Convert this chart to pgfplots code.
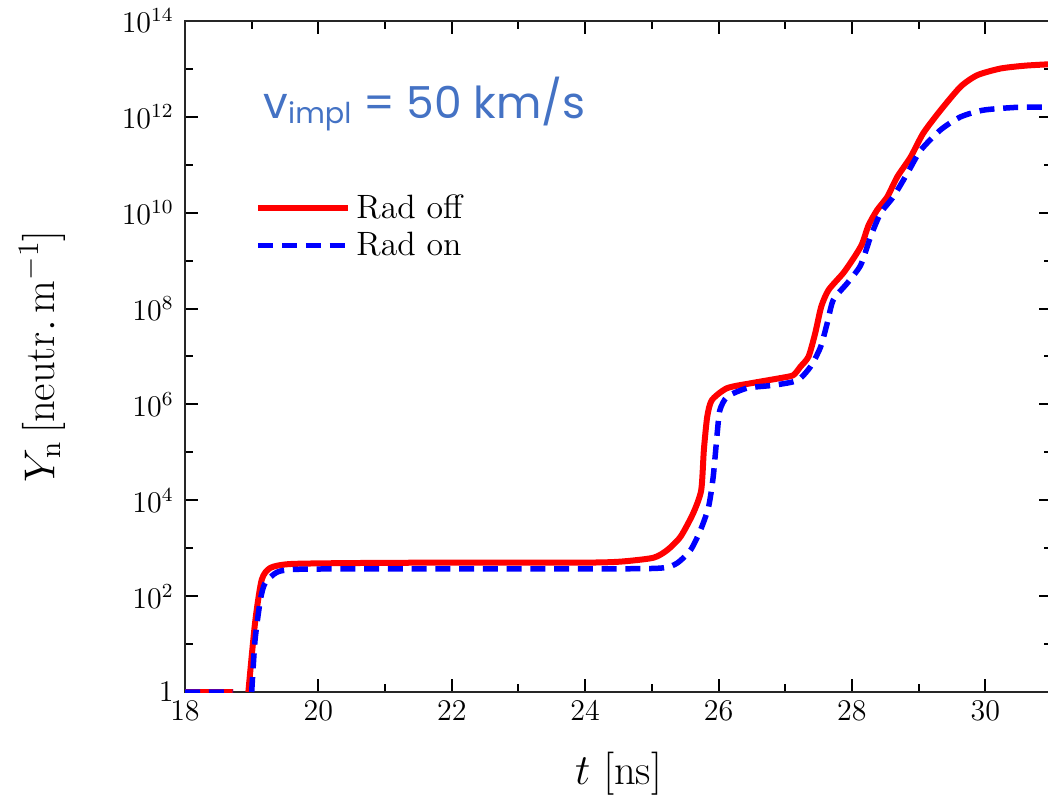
\documentclass[border=0pt]{standalone}
\usepackage{fontspec}
\newfontfamily\pop{Poppins}
\usepackage{pgfplots}
\pgfplotsset{compat=1.18}
\definecolor{vblue}{HTML}{4472C4}
\begin{document}
\begin{tikzpicture}
\begin{axis}[
  at={(0,0)}, anchor=south west,
  scale only axis, width=346.8pt, height=268.4pt,
  xmin=18, xmax=31, ymin=1, ymax=1e14, ymode=log,
  xtick={18,20,22,24,26,28,30}, minor xtick={19,21,23,25,27,29},
  ytick={1,1e2,1e4,1e6,1e8,1e10,1e12,1e14},
  yticklabels={$1$,$10^{2}$,$10^{4}$,$10^{6}$,$10^{8}$,$10^{10}$,$10^{12}$,$10^{14}$},
  minor ytick={1e1,1e3,1e5,1e7,1e9,1e11,1e13},
  tick align=inside, major tick length=5.2pt, minor tick length=3.2pt,
  every tick/.style={black, line width=0.8pt},
  axis line style={line width=0.8pt, black!85},
  tick label style={font=\fontsize{12}{14}\selectfont},
  yticklabel style={xshift=-1pt},
  xlabel={$t\ [\mathrm{ns}]$},
  ylabel={$Y_{\mathrm{n}}\,[\mathrm{neutr.\,m^{-1}}]$},
  label style={font=\fontsize{17}{20}\selectfont},
  xlabel style={at={(axis description cs:0.5,-0.122)}, anchor=center},
  ylabel style={at={(axis description cs:-0.165,0.5)}, anchor=center},
  unbounded coords=jump,
  legend style={draw=none, fill=none, at={(axis description cs:0.072,0.757)}, anchor=north west,
    font=\fontsize{13.5}{16}\selectfont},
  legend cell align=left,
  legend image code/.code={\draw[#1] (0pt,0pt) -- (36pt,0pt);},
]
\addplot[red, line width=2.4pt, line join=round, smooth, tension=0.4] coordinates {
(18,1) (18.72,1) (18.8,nan)
(18.95,1) (19.05,27.5) (19.15,219) (19.28,389) (19.58,468) (20.5,490) (22,501) (24,501)
(24.53,525) (25.02,631) (25.23,912) (25.43,1738) (25.62,5370) (25.74,16220)
(25.78,1.12e5) (25.83,5.5e5) (25.9,1.23e6) (26.13,2.19e6) (26.52,2.82e6) (26.93,3.55e6)
(27.12,4.07e6) (27.23,6.17e6) (27.35,1e7) (27.45,3.09e7) (27.54,1.1e8) (27.65,2.45e8)
(27.87,5.5e8) (28.03,1.15e9) (28.15,2.2e9) (28.25,5.5e9) (28.38,1.15e10) (28.53,2.14e10)
(28.68,5.6e10) (28.88,1.45e11) (29.07,4.57e11) (29.33,1.38e12) (29.63,4.27e12)
(29.88,7.41e12) (30.23,1.02e13) (30.6,1.17e13) (31,1.26e13)
};
\addlegendentry{Rad off}
\addplot[blue, line width=2.2pt, dash pattern=on 6pt off 3.5pt, line join=round, smooth, tension=0.4] coordinates {
(18,1) (18.72,1) (18.8,nan)
(19.0,1) (19.05,12) (19.13,83) (19.2,186) (19.38,316) (19.68,363) (21,372) (24.5,372)
(25.17,389) (25.38,490) (25.58,912) (25.73,2400) (25.85,7240) (25.92,30900)
(25.98,2.51e5) (26.02,7.59e5) (26.13,1.45e6) (26.43,2.19e6) (26.82,2.51e6) (27.18,3.16e6)
(27.38,6.17e6) (27.53,1.58e7) (27.63,5.0e7) (27.72,1.51e8) (27.93,3.39e8) (28.13,8.0e8)
(28.28,3.16e9) (28.43,9.77e9) (28.62,2.14e10) (28.83,6.6e10) (29.03,2.0e11)
(29.33,5.37e11) (29.63,1e12) (29.97,1.38e12) (30.48,1.58e12) (31,1.58e12)
};
\addlegendentry{Rad on}
\node[anchor=base west, text=vblue, inner sep=0pt, font=\pop\fontsize{17.6}{20}\selectfont]
  at (axis description cs:0.09,0.855) {v\raisebox{-2pt}{\fontsize{11.5}{11.5}\selectfont impl} = 50 km/s};
\end{axis}
\pgfresetboundingbox
\useasboundingbox (-74pt,-41.2pt) rectangle (345.2pt,276.8pt);
\end{tikzpicture}
\end{document}
